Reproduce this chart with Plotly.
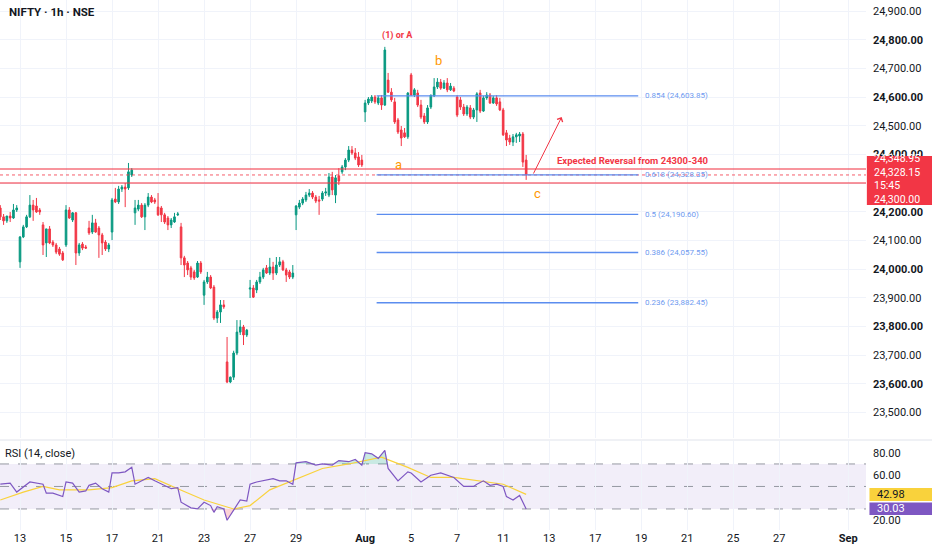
import plotly.graph_objects as go
import numpy as np

# ---------------- data ----------------
bars = list(range(161))
opens = [24213,24182,24168,24185,24178,24206,
 24025,24112,24147,24182,24223,24220,24206,
 24154,24091,24140,24094,24084,24070,24056,
 24084,24206,24171,24196,24056,24087,24077,
 24143,24129,24161,24143,24119,24094,24070,
 24129,24244,24234,24279,24286,24283,24328,
 24196,24209,24223,24182,24223,24251,24241,
 24216,24213,24189,24178,24154,24164,24189,
 24147,24039,24021,24004,23990,23972,24021,
 23909,23955,23972,23937,23829,23850,23875,
 23676,23606,23623,23707,23780,23798,23770,
 23930,23934,23927,23955,23972,24004,23986,
 24007,23986,24014,24025,23997,23990,23972,
 24189,24216,24230,24241,24258,24265,24251,
 24241,24244,24265,24258,24321,24258,24325,
 24339,24356,24380,24415,24405,24391,24380,
 24548,24579,24586,24600,24579,24597,24572,
 24659,24617,24583,24520,24485,24475,24461,
 24677,24607,24614,24572,24534,24513,24565,
 24604,24635,24652,24631,24649,24625,24631,
 24600,24590,24565,24541,24562,24530,24555,
 24614,24551,24597,24607,24579,24597,24583,
 24555,24475,24457,24443,24461,24464,24471,
 24380]
highs = [24223,24192,24185,24199,24227,24223,
 24115,24154,24189,24258,24241,24248,24213,
 24164,24140,24150,24101,24091,24077,24063,
 24223,24216,24199,24199,24091,24094,24084,
 24168,24189,24175,24150,24126,24101,24091,
 24248,24283,24290,24293,24300,24370,24352,
 24241,24241,24230,24230,24265,24258,24248,
 24265,24220,24196,24185,24178,24196,24199,
 24161,24046,24028,24011,23997,24028,24028,
 23962,23990,23979,23944,23857,23892,23892,
 23763,23625,23715,23822,23822,23805,23791,
 23962,23944,23962,23990,24004,24014,24039,
 24025,24042,24042,24032,24004,23997,24014,
 24223,24241,24251,24269,24279,24272,24258,
 24255,24272,24283,24335,24339,24328,24352,
 24363,24387,24429,24429,24422,24408,24398,
 24590,24600,24607,24607,24604,24607,24775,
 24684,24631,24597,24527,24499,24492,24617,
 24684,24631,24625,24590,24544,24572,24607,
 24666,24666,24663,24659,24666,24649,24638,
 24607,24600,24576,24572,24572,24562,24617,
 24625,24604,24617,24614,24604,24607,24597,
 24562,24485,24468,24471,24475,24478,24478,
 24398]
lows = [24171,24154,24161,24164,24175,24199,
 24004,24108,24143,24178,24168,24196,24189,
 24049,24042,24087,24077,24052,24046,24028,
 24077,24175,24164,24014,24046,24066,24070,
 24119,24122,24126,24039,24049,24063,24059,
 24101,24230,24227,24269,24216,24276,24321,
 24154,24202,24178,24136,24216,24230,24227,
 24185,24164,24157,24136,24143,24161,24185,
 24014,23972,23979,23962,23962,23969,23983,
 23875,23948,23930,23822,23812,23812,23861,
 23602,23602,23613,23700,23770,23735,23763,
 23899,23899,23916,23948,23965,23983,23979,
 23962,23979,24007,23993,23955,23965,23965,
 24136,24209,24223,24234,24251,24244,24230,
 24189,24237,24255,24251,24258,24230,24293,
 24332,24345,24373,24398,24380,24356,24356,
 24513,24572,24579,24576,24572,24555,24569,
 24614,24583,24506,24471,24429,24457,24454,
 24604,24600,24565,24523,24506,24506,24558,
 24600,24628,24625,24628,24617,24621,24617,
 24530,24555,24534,24534,24523,24523,24513,
 24544,24548,24590,24576,24576,24569,24551,
 24464,24429,24433,24429,24440,24443,24356,
 24311]
closes = [24182,24168,24185,24178,24206,24213,
 24112,24147,24182,24223,24206,24199,24199,
 24084,24140,24091,24084,24059,24052,24032,
 24206,24178,24196,24056,24084,24073,24073,
 24126,24161,24129,24119,24091,24070,24084,
 24241,24234,24279,24286,24279,24339,24345,
 24213,24223,24182,24223,24251,24234,24234,
 24189,24189,24164,24154,24171,24182,24192,
 24039,24014,23997,23972,23969,24021,23990,
 23955,23972,23934,23829,23850,23875,23868,
 23606,23623,23707,23780,23798,23770,23787,
 23934,23902,23955,23972,23997,23986,24007,
 23986,24014,24025,23997,23979,23972,23986,
 24220,24230,24244,24258,24265,24251,24237,
 24237,24265,24269,24321,24276,24318,24307,
 24356,24380,24415,24405,24387,24363,24363,
 24579,24593,24600,24583,24597,24572,24764,
 24617,24590,24513,24478,24457,24461,24614,
 24607,24625,24572,24530,24513,24562,24607,
 24635,24652,24631,24649,24625,24638,24621,
 24537,24565,24541,24565,24530,24555,24611,
 24551,24597,24607,24579,24597,24576,24555,
 24468,24450,24443,24461,24468,24471,24373,
 24328.15]

# RSI (14, close) read at bar positions
rsi_bars = [0,3,5,9,13,14,16,19,20,22,24,26,27,29,31,33,34,36,38,40,41,43,45,47,49,52,54,55,
            58,60,62,64,65,66,68,69,71,73,75,76,78,80,83,85,87,89,90,93,96,98,101,103,106,108,
            110,111,113,115,117,118,121,124,125,128,131,134,136,138,141,144,145,147,149,151,153,
            154,156,158,160]
rsi_vals = [52,53,45,54,52,44,44,41,54,53,45,46,51,53,48,45,62,62,63,67,52,55,58,55,52,48,49,36,
            31,30,36,33,27,32,30,20,29,38,37,52,54,55,57,55,55,52,71,72,69,70,69,73,72,74,
            69,80,79,75,82,66,55,63,62,54,60,62,60,58,50,50,52,55,51,52,50,
            41,38,42,30.03]
ma_bars = [0,7,13,18,27,34,40,47,54,62,71,76,82,89,98,106,116,124,131,138,145,153,160]
ma_vals = [38,45,50,47,47,49,55,57,48,38,30,33,47,55,66,70,76,67,58,58,55,52,42.98]

# x-axis day ticks (bar index of each labelled session) and labels
tick_bars = [6,20,34,48,62,76,90,111,125,139,153,167,181,195,209,223,237,258]
tick_text = ["13","15","17","21","23","27","29","<b>Aug</b>","5","7","11","13","17","19","21","25","27","<b>Sep</b>"]

price_ticks = [23500,23600,23700,23800,23900,24000,24100,24200,24300,24400,24500,24600,24700,24800,24900]
hidden_price_ticks = [24300]   # covered by the last-price label block

fib_ratios = ["0.854","0.618","0.5","0.386","0.236"]
fib_levels = [24603.85,24328.35,24190.60,24057.55,23882.45]
fib_start, fib_end = 114.5, 194.1

zone_top, zone_bottom, last_price = 24348.95, 24300.00, 24328.15
countdown = "15:45"
last_rsi, last_ma = 30.03, 42.98

# ---------------- figure ----------------
GREEN, RED = "#089981", "#F23645"
FONT = "Roboto"
TXT = "#131722"
GRID = "#F0F3FA"

fig = go.Figure()
fig.add_trace(go.Candlestick(
    x=bars, open=opens, high=highs, low=lows, close=closes,
    increasing=dict(line=dict(color=GREEN, width=1), fillcolor=GREEN),
    decreasing=dict(line=dict(color=RED, width=1), fillcolor=RED),
    whiskerwidth=0, showlegend=False, hoverinfo="skip", xaxis="x", yaxis="y"))

rsi_arr = np.array(rsi_vals, dtype=float)
fig.add_trace(go.Scatter(x=rsi_bars, y=[70]*len(rsi_bars), mode="lines", line=dict(width=0),
                         showlegend=False, hoverinfo="skip", xaxis="x2", yaxis="y2"))
fig.add_trace(go.Scatter(x=rsi_bars, y=np.maximum(rsi_arr, 70), mode="lines", line=dict(width=0),
                         fill="tonexty", fillcolor="rgba(8,153,129,0.22)",
                         showlegend=False, hoverinfo="skip", xaxis="x2", yaxis="y2"))
fig.add_trace(go.Scatter(x=rsi_bars, y=[30]*len(rsi_bars), mode="lines", line=dict(width=0),
                         showlegend=False, hoverinfo="skip", xaxis="x2", yaxis="y2"))
fig.add_trace(go.Scatter(x=rsi_bars, y=np.minimum(rsi_arr, 30), mode="lines", line=dict(width=0),
                         fill="tonexty", fillcolor="rgba(242,54,69,0.22)",
                         showlegend=False, hoverinfo="skip", xaxis="x2", yaxis="y2"))
fig.add_trace(go.Scatter(x=ma_bars, y=ma_vals, mode="lines", line=dict(color="#F9D23C", width=1.2),
                         showlegend=False, hoverinfo="skip", xaxis="x2", yaxis="y2"))
fig.add_trace(go.Scatter(x=rsi_bars, y=rsi_vals, mode="lines", line=dict(color="#7E57C2", width=1.2),
                         showlegend=False, hoverinfo="skip", xaxis="x2", yaxis="y2"))

shapes = []
shapes.append(dict(type="rect", xref="x2 domain", yref="y2", x0=0, x1=1, y0=30, y1=70,
                   fillcolor="rgba(126,87,194,0.10)", line=dict(width=0), layer="below"))
for lv in (70, 50, 30):
    shapes.append(dict(type="line", xref="x2 domain", yref="y2", x0=0, x1=1, y0=lv, y1=lv,
                       line=dict(color="#9598A1", width=1, dash="dash"), layer="below"))
for lv in (zone_top, zone_bottom):
    shapes.append(dict(type="line", xref="x domain", yref="y", x0=0, x1=1, y0=lv, y1=lv,
                       line=dict(color="rgba(242,54,69,0.7)", width=1.6), layer="above"))
shapes.append(dict(type="line", xref="x domain", yref="y", x0=0, x1=1, y0=last_price, y1=last_price,
                   line=dict(color="rgba(242,54,69,0.8)", width=1, dash="dot"), layer="above"))
for lv in fib_levels:
    shapes.append(dict(type="line", xref="x", yref="y", x0=fib_start, x1=fib_end, y0=lv, y1=lv,
                       line=dict(color="#5B8DEF", width=1.4), layer="above"))
shapes.append(dict(type="line", xref="paper", yref="paper", x0=0, x1=1.08, y0=0.1698, y1=0.1698,
                   line=dict(color="#E0E3EB", width=1)))
shapes.append(dict(type="rect", xref="paper", yref="y", x0=1.001, x1=1.08, y0=24223, y1=24394,
                   fillcolor=RED, line=dict(width=0), layer="above"))
shapes.append(dict(type="rect", xref="paper", yref="y2", x0=1.004, x1=1.08, y0=37.1, y1=48.7,
                   fillcolor="#F9D23C", line=dict(width=0), layer="above"))
shapes.append(dict(type="rect", xref="paper", yref="y2", x0=1.004, x1=1.08, y0=24.7, y1=35.8,
                   fillcolor="#7E57C2", line=dict(width=0), layer="above"))

ann = []
ann.append(dict(text="<b>NIFTY · 1h · NSE</b>", xref="paper", yref="paper", x=0.008, y=0.977,
                xanchor="left", yanchor="middle", showarrow=False, font=dict(size=11.5, color=TXT)))
ann.append(dict(text="RSI (14, close)", xref="paper", yref="paper", x=0.004, y=0.145,
                xanchor="left", yanchor="middle", showarrow=False, font=dict(size=11, color=TXT)))
ann.append(dict(text="<b>(1) or A</b>", x=121.0, y=24813, xref="x", yref="y", showarrow=False,
                font=dict(size=9, color=RED)))
for t, bx, py in (("b", 133.2, 24726), ("a", 121.3, 24366), ("c", 163.3, 24265)):
    ann.append(dict(text=t, x=bx, y=py, xref="x", yref="y", showarrow=False,
                    font=dict(size=13, color="#FF9800")))
ann.append(dict(text="<b>Expected Reversal from 24300-340</b>", x=168.8, y=24380, xref="x", yref="y",
                xanchor="left", showarrow=False, font=dict(size=9.5, color=RED)))
for r, lv in zip(fib_ratios, fib_levels):
    ann.append(dict(text=f"{r} ({lv:,.2f})", x=195.6, y=lv, xref="x", yref="y", xanchor="left",
                    showarrow=False, font=dict(size=8, color="#6E9AF0")))
ann.append(dict(x=170.8, y=24530, ax=162.0, ay=24328, xref="x", yref="y", axref="x", ayref="y",
                text="", showarrow=True, arrowhead=4, arrowsize=1.2, arrowwidth=1, arrowcolor=RED))
box_text = "<br>".join([f"{zone_top:,.2f}", f"{last_price:,.2f}", countdown, f"{zone_bottom:,.2f}"])
ann.append(dict(text=box_text, xref="paper", yref="y", x=1.008, y=24313, xanchor="left",
                yanchor="middle", align="left", showarrow=False, borderpad=0,
                font=dict(size=10.5, color="white")))
ann.append(dict(text=f"{last_ma:.2f}", xref="paper", yref="y2", x=1.012, y=last_ma, xanchor="left",
                yanchor="middle", showarrow=False, borderpad=0, font=dict(size=11, color=TXT)))
ann.append(dict(text=f"{last_rsi:.2f}", xref="paper", yref="y2", x=1.012, y=last_rsi, xanchor="left",
                yanchor="middle", showarrow=False, borderpad=0, font=dict(size=11, color="white")))

price_text = [("" if v in hidden_price_ticks else (f"<b>{v:,.2f}</b>" if v % 200 == 0 else f"{v:,.2f}"))
              for v in price_ticks]

xr = [-0.09, 263.4]
fig.update_layout(
    width=932, height=550, margin=dict(l=0, r=66, t=0, b=20),
    paper_bgcolor="white", plot_bgcolor="white",
    font=dict(family=FONT, color=TXT, size=11),
    showlegend=False, shapes=shapes, annotations=ann,
    xaxis=dict(domain=[0, 1], range=xr, anchor="y", tickvals=tick_bars, showticklabels=False,
               showgrid=True, gridcolor=GRID, zeroline=False, rangeslider=dict(visible=False),
               showline=False, ticks=""),
    xaxis2=dict(domain=[0, 1], range=xr, anchor="y2", tickvals=tick_bars, ticktext=tick_text,
                showgrid=True, gridcolor=GRID, zeroline=False, showline=False, ticks="",
                tickfont=dict(size=11, color=TXT)),
    yaxis=dict(domain=[0.1736, 1], range=[23410.7, 24938.4], side="right", anchor="x",
               tickvals=price_ticks, ticktext=price_text, showgrid=True, gridcolor=GRID,
               zeroline=False, ticks="", ticklabelstandoff=6, tickfont=dict(size=11, color=TXT)),
    yaxis2=dict(domain=[0, 0.1679], range=[11.3, 90.4], side="right", anchor="x2",
                tickvals=[20, 60, 80], ticktext=["20.00", "60.00", "80.00"], showgrid=False,
                zeroline=False, ticks="", ticklabelstandoff=6, tickfont=dict(size=11, color=TXT)),
)

fig.write_html("out.html", config={"displayModeBar": False},
               post_script="document.body.style.margin='0';document.body.style.overflow='hidden';")
